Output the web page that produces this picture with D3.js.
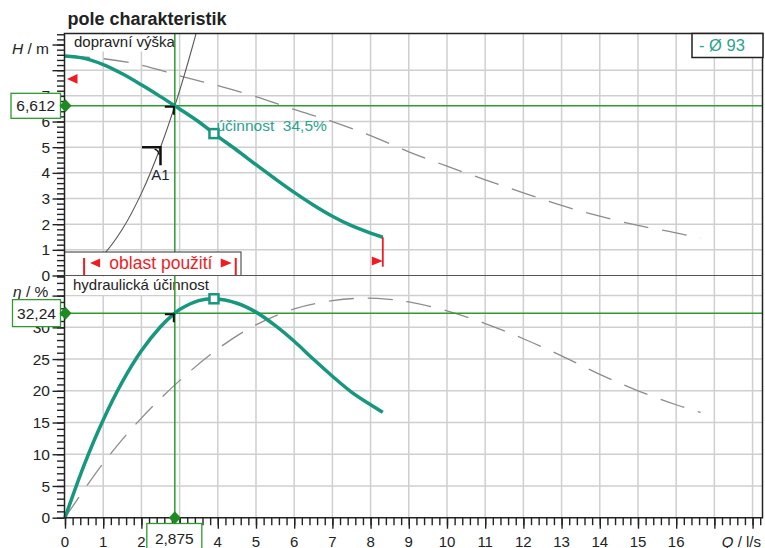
<!DOCTYPE html>
<html>
<head>
<meta charset="utf-8">
<script src="https://cdn.jsdelivr.net/npm/d3@7"></script>
<style>
  html, body { margin: 0; padding: 0; background: #fff; }
  svg { display: block; font-family: "Liberation Sans", Arial, sans-serif; }
</style>
</head>
<body>
<svg id="chart" width="765" height="548"></svg>
<script>
// ---- Data -------------------------------------------------------------
// single pump, impeller Ø 93 (flow Q in l/s)
const pumpQ   = [0, 0.5, 1, 1.5, 2, 2.5, 2.875, 3, 3.5, 3.9, 4.5, 5, 5.5, 6, 6.5, 7, 7.5, 8, 8.32];
const pumpH   = [8.55, 8.46, 8.22, 7.86, 7.43, 6.97, 6.612, 6.49, 5.99, 5.53, 4.88, 4.32, 3.77, 3.24, 2.75, 2.31, 1.94, 1.65, 1.49];
const pumpEta = [0, 8.3, 15.4, 21.4, 26.3, 30.1, 32.24, 32.8, 34.2, 34.5, 33.8, 32.4, 30.3, 27.8, 25.0, 22.3, 19.8, 17.8, 16.6];

// parallel operation (dashed)
const parQ   = [0, 1, 2, 3, 4, 5, 6, 7, 8, 9, 10, 11, 12, 13, 14, 15, 16, 16.64];
const parH   = [8.55, 8.45, 8.20, 7.78, 7.40, 6.97, 6.47, 6.00, 5.45, 4.82, 4.26, 3.73, 3.22, 2.73, 2.31, 1.95, 1.66, 1.45];
const parEtaQ = [0, 1, 2, 3, 4, 5, 6, 7, 7.8, 8.5, 9, 10, 11, 12, 13, 14, 15, 16, 16.64];
const parEta  = [0, 8.6, 15.7, 21.6, 26.6, 30.4, 32.9, 34.2, 34.6, 34.4, 34.0, 32.6, 30.6, 28.2, 25.5, 22.6, 20.0, 17.8, 16.6];

// system curve A1
const sysQ = [0, 0.5, 1, 1.5, 2, 2.5, 2.875, 3.2, 3.5];
const sysH = [0, 0.2, 0.8, 1.8, 3.2, 5.0, 6.612, 8.2, 9.8];
const sysLabelQ = 2.5, sysLabelH = 5.0;

// duty point, best efficiency point, limits
const dutyQ = 2.875, dutyH = 6.612, dutyEta = 32.24;
const bepQ = 3.9, bepH = 5.53, bepEta = 34.5;
const usageRange = [0.5, 4.47];
const maxQ = 8.32;
const maxHMark = 7.66;

// tick labels ("3" on the flow axis sits under the duty-point box)
const qLabels   = [0,1,2,4,5,6,7,8,9,10,11,12,13,14,15,16];
const hLabels   = [0,1,2,3,4,5,6,7];
const etaLabels = [0,5,10,15,20,25,30];

// ---- Layout -----------------------------------------------------------
const svg = d3.select("#chart");
const pL = 64.5, pR = 762.5, pT = 33.5, pM = 275.5, pB = 517.7;
const teal = "#17977e", green = "#2f9a2f", red = "#ee1c25", gridC = "#cfcfcf", ink = "#222";

const x  = d3.scaleLinear().domain([0, 18.26]).range([65, pR]);
const yH = d3.scaleLinear().domain([0, 9.43]).range([pM, pT]);
const yE = d3.scaleLinear().domain([0, 38.17]).range([pB, pM]);

const zip = (a, b) => a.map((v, i) => [v, b[i]]);
const smooth = d3.curveCatmullRom.alpha(0.5);

// clip paths for the two panels
const defs = svg.append("defs");
defs.append("clipPath").attr("id", "clipTop").append("rect")
  .attr("x", pL).attr("y", pT).attr("width", pR - pL).attr("height", pM - pT);
defs.append("clipPath").attr("id", "clipBot").append("rect")
  .attr("x", pL).attr("y", pM).attr("width", pR - pL).attr("height", pB - pM);

// ---- Grid -------------------------------------------------------------
const grid = svg.append("g").attr("stroke", gridC).attr("stroke-width", 1.5);
grid.selectAll("line.v").data(d3.range(1, 19)).join("line")
  .attr("x1", d => x(d)).attr("x2", d => x(d)).attr("y1", pT).attr("y2", pB);
grid.selectAll("line.h").data(d3.range(1, 9)).join("line")
  .attr("x1", pL).attr("x2", pR).attr("y1", d => yH(d)).attr("y2", d => yH(d));
grid.selectAll("line.e").data(d3.range(5, 40, 5)).join("line")
  .attr("x1", pL).attr("x2", pR).attr("y1", d => yE(d)).attr("y2", d => yE(d));

// panel captions on white background
function caption(txt, tx, ty, bgTop) {
  const g = svg.append("g");
  const r = g.append("rect").attr("fill", "#fff");
  const t = g.append("text").attr("x", tx).attr("y", ty).attr("font-size", 15)
    .attr("fill", ink).text(txt);
  const w = t.node().getComputedTextLength();
  r.attr("x", pL + 1).attr("y", bgTop).attr("width", tx - pL + w + 2).attr("height", ty - bgTop + 5);
}
caption("dopravní výška", 74, 46.5, pT + 1);
caption("hydraulická účinnost", 73, 290, pM + 1);

// ---- Dashed parallel-operation curves ---------------------------------
const lineH = d3.line().x(d => x(d[0])).y(d => yH(d[1])).curve(smooth);
const lineE = d3.line().x(d => x(d[0])).y(d => yE(d[1])).curve(smooth);

svg.append("path").attr("d", lineH(zip(parQ, parH))).attr("clip-path", "url(#clipTop)")
  .attr("fill", "none").attr("stroke", "#8c8c8c").attr("stroke-width", 1.3).attr("stroke-dasharray", "25,14");
svg.append("path").attr("d", lineE(zip(parEtaQ, parEta))).attr("clip-path", "url(#clipBot)")
  .attr("fill", "none").attr("stroke", "#8c8c8c").attr("stroke-width", 1.3).attr("stroke-dasharray", "25,14");

// system curve
svg.append("path").attr("d", lineH(zip(sysQ, sysH)))
  .attr("clip-path", "url(#clipTop)").attr("fill", "none").attr("stroke", "#555").attr("stroke-width", 1.1);

// ---- Duty point guide lines ------------------------------------------
const gl = svg.append("g").attr("stroke", green).attr("stroke-width", 1.5);
gl.append("line").attr("x1", x(dutyQ)).attr("x2", x(dutyQ)).attr("y1", pT).attr("y2", pB);
gl.append("line").attr("x1", pL).attr("x2", pR).attr("y1", yH(dutyH)).attr("y2", yH(dutyH));
gl.append("line").attr("x1", pL).attr("x2", pR).attr("y1", yE(dutyEta)).attr("y2", yE(dutyEta));

// ---- Usage range box --------------------------------------------------
const ub = svg.append("g");
ub.append("rect").attr("x", pL).attr("y", 252).attr("width", 241 - pL).attr("height", pM - 252)
  .attr("fill", "#fff").attr("stroke", "#333").attr("stroke-width", 1);
const u0 = x(usageRange[0]), u1 = x(usageRange[1]);
ub.selectAll("line").data([u0, u1]).join("line")
  .attr("x1", d => d).attr("x2", d => d).attr("y1", 258).attr("y2", pM)
  .attr("stroke", red).attr("stroke-width", 2);
ub.append("path").attr("d", `M${u0 + 6},263 L${u0 + 16},258.5 L${u0 + 16},267.5 Z`).attr("fill", red);
ub.append("path").attr("d", `M${u1 - 4},263 L${u1 - 15},258.5 L${u1 - 15},267.5 Z`).attr("fill", red);
ub.append("text").attr("x", (u0 + u1) / 2 + 1).attr("y", 269).attr("text-anchor", "middle")
  .attr("font-size", 17.5).attr("fill", red).text("oblast použití");

// ---- Pump curves ------------------------------------------------------
svg.append("path").attr("d", lineH(zip(pumpQ, pumpH)))
  .attr("fill", "none").attr("stroke", teal).attr("stroke-width", 3.5);
svg.append("path").attr("d", lineE(zip(pumpQ, pumpEta)))
  .attr("fill", "none").attr("stroke", teal).attr("stroke-width", 3.5);

// limits in red
svg.append("line").attr("x1", x(maxQ)).attr("x2", x(maxQ)).attr("y1", yH(pumpH[pumpH.length - 1])).attr("y2", 266.7)
  .attr("stroke", red).attr("stroke-width", 1.8);
svg.append("path").attr("d", `M${x(maxQ)},261 L${x(maxQ) - 11},256.5 L${x(maxQ) - 11},265.5 Z`).attr("fill", red);
svg.append("path").attr("d", `M67,${yH(maxHMark)} L77.5,${yH(maxHMark) - 4.8} L77.5,${yH(maxHMark) + 4.8} Z`).attr("fill", red);

// best efficiency point markers
[[x(bepQ), yH(bepH)], [x(bepQ), yE(bepEta)]].forEach(p => {
  svg.append("rect").attr("x", p[0] - 4.5).attr("y", p[1] - 4.5).attr("width", 9).attr("height", 9)
    .attr("fill", "#fff").attr("stroke", teal).attr("stroke-width", 2.5);
});
svg.append("text").attr("x", 216.5).attr("y", 130.5).attr("font-size", 15.5).attr("fill", "#2aa291")
  .attr("xml:space", "preserve").text("účinnost  34,5%");

// duty point corner marks
function corner(px, py) {
  svg.append("path").attr("d", `M${px - 9},${py + 1} L${px},${py + 1} L${px},${py + 9}`)
    .attr("fill", "none").attr("stroke", "#111").attr("stroke-width", 2);
}
corner(x(dutyQ) - 1, yH(dutyH));
corner(x(dutyQ) - 1, yE(dutyEta));

// system curve label A1
const ax = x(sysLabelQ), ay = yH(sysLabelH);
svg.append("path").attr("d", `M${ax - 18.5},${ay} L${ax},${ay} L${ax},${ay + 18}`)
  .attr("fill", "none").attr("stroke", "#111").attr("stroke-width", 2.5);
svg.append("path").attr("d", `M${ax - 6},${ay + 2} Q${ax - 2},${ay + 3} ${ax - 1.5},${ay + 7.5}`)
  .attr("fill", "none").attr("stroke", "#111").attr("stroke-width", 1.3);
svg.append("text").attr("x", ax).attr("y", ay + 32.5).attr("text-anchor", "middle")
  .attr("font-size", 15).attr("fill", "#223").text("A1");

// ---- Axes -------------------------------------------------------------
const axG = svg.append("g");

function styleAxis(g) {
  g.selectAll("path.domain").remove();
  g.selectAll(".tick line").attr("stroke", "#222").attr("stroke-width", 1.4);
}
// left, upper panel
axG.append("g").attr("transform", `translate(${pL},0)`)
  .call(d3.axisLeft(yH).tickValues(d3.range(0, 9.41, 0.2)).tickSize(7.5).tickFormat("")).call(styleAxis);
axG.append("g").attr("transform", `translate(${pL},0)`)
  .call(d3.axisLeft(yH).tickValues(d3.range(0, 10)).tickSize(12).tickFormat("")).call(styleAxis);
// left, lower panel
axG.append("g").attr("transform", `translate(${pL},0)`)
  .call(d3.axisLeft(yE).tickValues(d3.range(0, 38.1, 1)).tickSize(7.5).tickFormat("")).call(styleAxis);
axG.append("g").attr("transform", `translate(${pL},0)`)
  .call(d3.axisLeft(yE).tickValues(d3.range(0, 40, 5)).tickSize(12).tickFormat("")).call(styleAxis);
// bottom
axG.append("g").attr("transform", `translate(0,${pB})`)
  .call(d3.axisBottom(x).tickValues(d3.range(0, 18.21, 0.2)).tickSize(7.5).tickFormat("")).call(styleAxis);
axG.append("g").attr("transform", `translate(0,${pB})`)
  .call(d3.axisBottom(x).tickValues(d3.range(0, 19)).tickSize(11).tickFormat("")).call(styleAxis);

// tick labels
const tl = svg.append("g").attr("fill", ink).attr("font-size", 15.5);
tl.selectAll("text.h").data(hLabels).join("text")
  .attr("x", 50).attr("y", d => yH(d)).attr("dy", "0.36em").attr("text-anchor", "end").text(d => d);
tl.selectAll("text.e").data(etaLabels).join("text")
  .attr("x", 50).attr("y", d => yE(d)).attr("dy", "0.36em").attr("text-anchor", "end").text(d => d);
tl.selectAll("text.q").data(qLabels).join("text")
  .attr("x", d => x(d)).attr("y", 546.5).attr("text-anchor", "middle").attr("font-size", 15).text(d => d);

// axis titles
const at = svg.append("g").attr("fill", ink).attr("font-size", 15.5);
at.append("text").attr("x", 12).attr("y", 54)
  .html('<tspan font-style="italic">H</tspan> / m');
at.append("text").attr("x", 13).attr("y", 297)
  .html('<tspan font-style="italic">η</tspan> / %');
at.append("text").attr("x", 761).attr("y", 546.5).attr("text-anchor", "end").attr("font-size", 15)
  .html('<tspan font-style="italic">Q</tspan> / l/s');

// ---- Frame ------------------------------------------------------------
svg.append("path").attr("d", `M${pL},${pB} L${pL},${pT} L${pR},${pT} L${pR},${pB} L${pL},${pB}`)
  .attr("stroke", "#222").attr("stroke-width", 1.5).attr("fill", "none");
svg.append("line").attr("x1", pL).attr("x2", pR).attr("y1", pM).attr("y2", pM)
  .attr("stroke", "#555").attr("stroke-width", 1);

// ---- Legend -----------------------------------------------------------
svg.append("rect").attr("x", 692).attr("y", pT).attr("width", 71).attr("height", 24)
  .attr("fill", "#fff").attr("stroke", "#222").attr("stroke-width", 1.5);
svg.append("text").attr("x", 699).attr("y", 50.5).attr("font-size", 16.5).attr("fill", "#2aa291").text("- Ø 93");

// ---- Duty point value boxes ------------------------------------------
function valueBox(bx, by, bw, bh, txt, dx, dy) {
  svg.append("rect").attr("x", bx).attr("y", by).attr("width", bw).attr("height", bh)
    .attr("fill", "#fff").attr("stroke", green).attr("stroke-width", 1.3);
  svg.append("text").attr("x", bx + bw / 2).attr("y", by + bh / 2).attr("dy", "0.36em")
    .attr("text-anchor", "middle").attr("font-size", 15.5).attr("fill", ink).text(txt);
  svg.append("path").attr("d", `M${dx},${dy - 6.5} L${dx + 6},${dy} L${dx},${dy + 6.5} L${dx - 6},${dy} Z`)
    .attr("fill", "#1f8a24");
}
const fmt = v => String(v).replace(".", ",");
valueBox(11, yH(dutyH) - 12.5, 49.5, 25, fmt(dutyH), 65.5, yH(dutyH));
valueBox(12.5, yE(dutyEta) - 13.5, 48, 27, fmt(dutyEta), 65.5, yE(dutyEta));
valueBox(x(dutyQ) - 28, 523.5, 55, 30, fmt(dutyQ), x(dutyQ), pB);

// title
svg.append("text").attr("x", 67.5).attr("y", 25).attr("font-size", 18).attr("font-weight", "bold")
  .attr("fill", ink).text("pole charakteristik");
</script>
</body>
</html>
